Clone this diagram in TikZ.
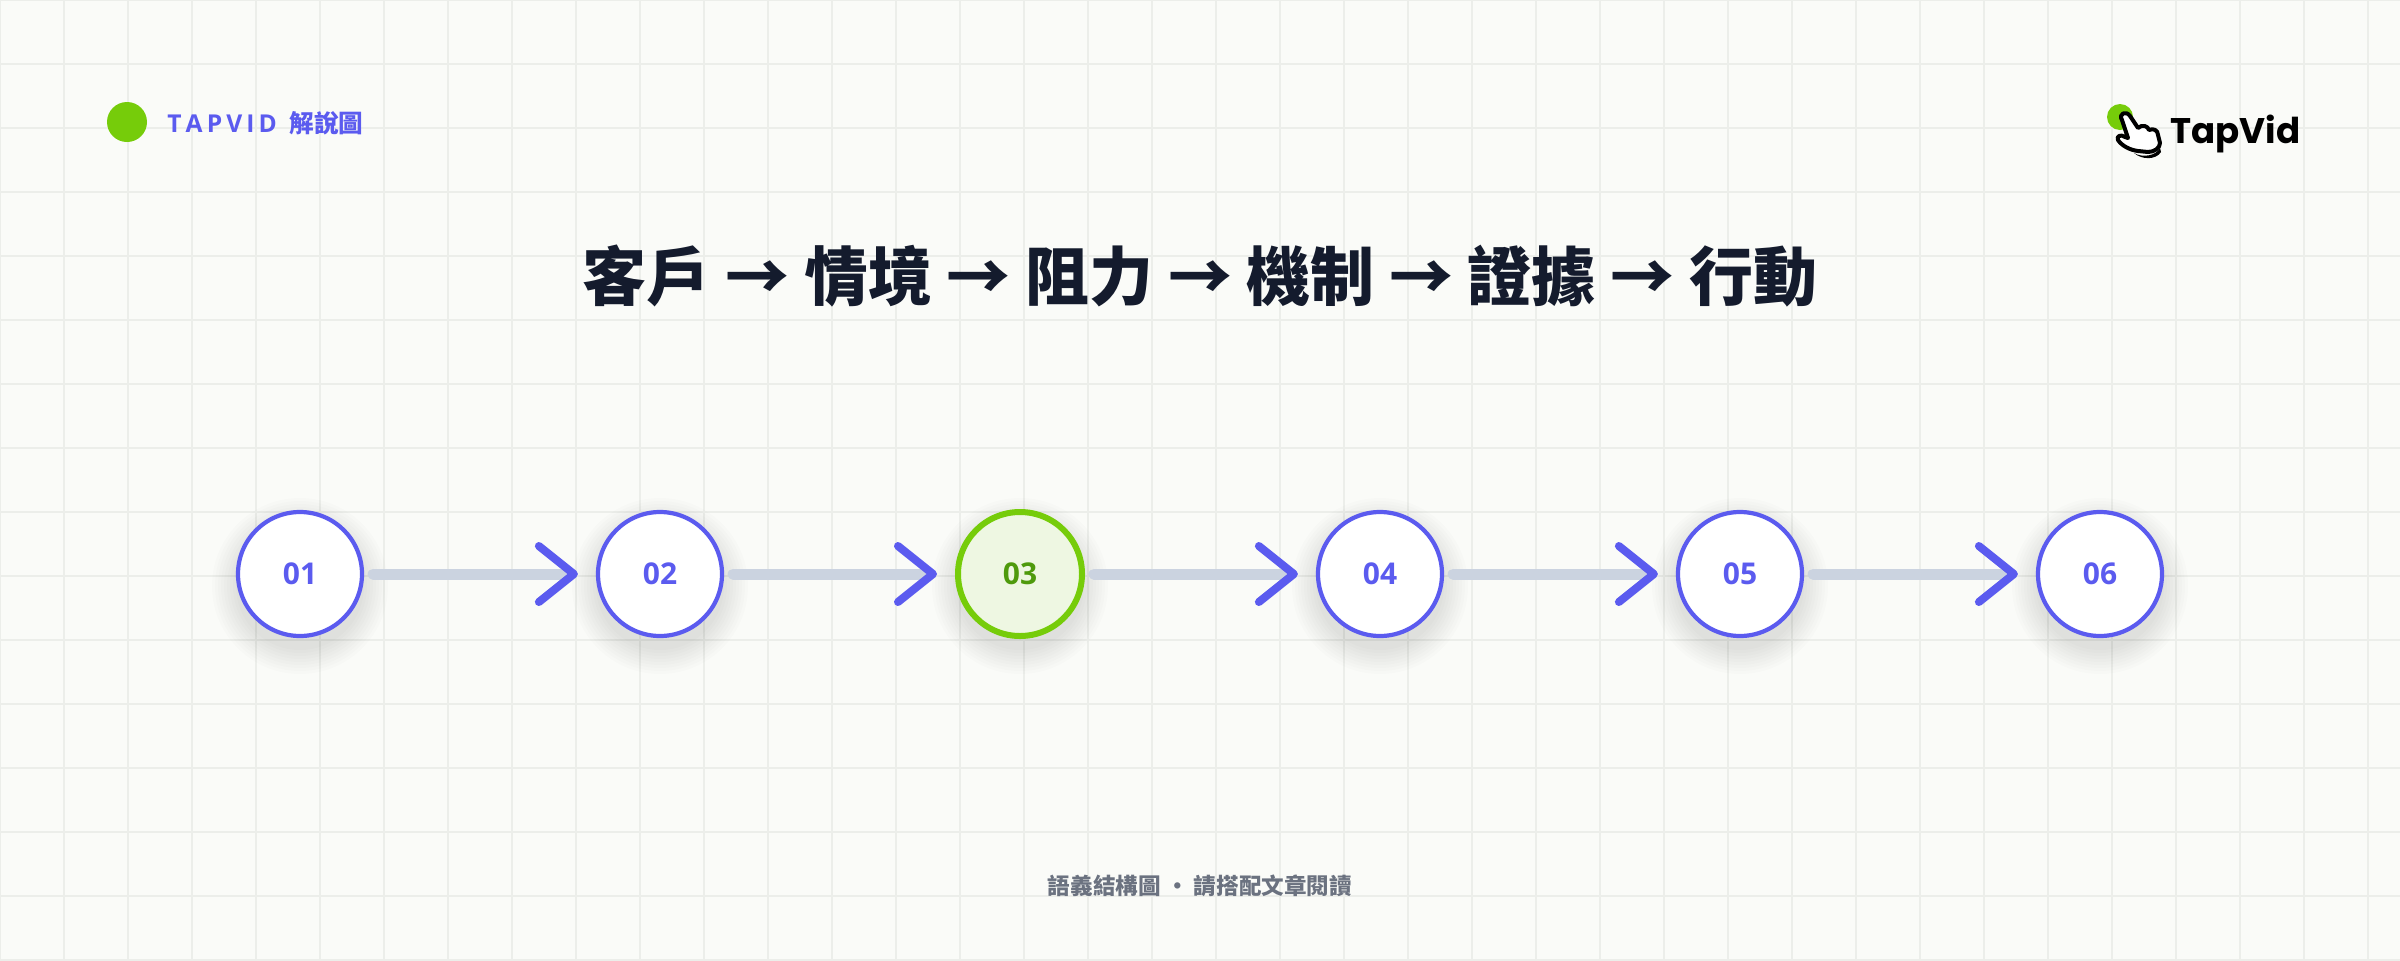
\documentclass[tikz,border=0pt]{standalone}
\usepackage{fontspec}
\setmainfont{Open Sans}
\newfontfamily\cjk{Noto Sans CJK TC}
\newfontfamily\logofont{Poppins}
\definecolor{bg}{HTML}{FAFBF8}
\definecolor{gridc}{HTML}{ECEEEA}
\definecolor{ind}{HTML}{5B5BEF}
\definecolor{lime}{HTML}{76CC0A}
\definecolor{limefill}{HTML}{EEF7E2}
\definecolor{limetext}{HTML}{4E9A0C}
\definecolor{conn}{HTML}{CBD3E0}
\definecolor{ttl}{HTML}{141B2D}
\definecolor{foot}{HTML}{6B7280}
\begin{document}
\begin{tikzpicture}[x=0.5pt,y=-0.5pt,
  stepnode/.style={circle,minimum size=62pt,inner sep=0,draw=ind,line width=2.1pt,fill=white,text=ind,font=\bfseries\fontsize{15}{15}\selectfont},
  hot/.style={stepnode,draw=lime,line width=3pt,fill=limefill,text=limetext},
  link/.style={conn,line width=5.5pt,line cap=round},
  chev/.style={ind,line width=4pt,line cap=round,line join=round}]
\fill[bg] (0,0) rectangle (2400,960);
\useasboundingbox (0,0) rectangle (2400,960);
\foreach \i in {0,64,...,2400} \draw[gridc,line width=0.6pt] (\i,0)--(\i,960);
\foreach \j in {0,64,...,960} \draw[gridc,line width=0.6pt] (0,\j)--(2400,\j);
% header left
\fill[lime] (127,122) circle (20);
\node[anchor=west,text=ind,font=\bfseries\fontsize{12.3}{13}\selectfont,inner sep=0] (brand) at (167,123) {T\,A\,P\,V\,I\,D\ \ {\cjk 解說圖}};
% logo
\fill[lime] (2120,117) circle (13);
\draw[black,line width=2pt,fill=white,line join=round] (2122,120) .. controls (2118,114) and (2126,110) .. (2130,116) -- (2138,128) .. controls (2142,124) and (2148,126) .. (2149,130) .. controls (2153,128) and (2158,130) .. (2158,135) -- (2160,143) .. controls (2160,148) and (2154,152) .. (2148,152) -- (2138,151) .. controls (2130,150) and (2122,146) .. (2118,140) .. controls (2116,136) and (2121,134) .. (2125,137) -- (2128,138) -- cycle;
\fill[black] (2134,153) .. controls (2142,158) and (2156,156) .. (2160,148) -- (2161,152) .. controls (2156,160) and (2142,160) .. (2134,153) -- cycle;
\node[anchor=base west,inner sep=0,font=\logofont\bfseries\fontsize{17.8}{20}\selectfont] (logo) at (2170,143) {TapVid};
% title
\node[text=ttl,font=\cjk\bfseries\fontsize{32}{34}\selectfont,inner sep=0] (title) at (1200,276) {客戶 → 情境 → 阻力 → 機制 → 證據 → 行動};
% soft shadows
\foreach \cx in {300,660,1020,1380,1740,2100}
  \foreach \r in {64,67,...,88} \fill[black,opacity=0.012] (\cx,586) circle (\r);
% steps
\node[stepnode] (s1) at (300,574) {01};
\node[stepnode] (s2) at (660,574) {02};
\node[hot]  (s3) at (1020,574) {03};
\node[stepnode] (s4) at (1380,574) {04};
\node[stepnode] (s5) at (1740,574) {05};
\node[stepnode] (s6) at (2100,574) {06};
\foreach \a/\b in {s1/s2,s2/s3,s3/s4,s4/s5,s5/s6}{
  \draw[link] ([xshift=4.5pt]\a.east) -- ([xshift=-13pt]\b.west);
  \draw[chev] ([xshift=-28.5pt,yshift=-14pt]\b.west) -- ([xshift=-11pt]\b.west) -- ([xshift=-28.5pt,yshift=14pt]\b.west);
}
% footer
\node[text=foot,font=\cjk\bfseries\fontsize{11.3}{12}\selectfont,inner sep=0] (footer) at (1200,886) {語義結構圖 · 請搭配文章閱讀};
\end{tikzpicture}
\end{document}
